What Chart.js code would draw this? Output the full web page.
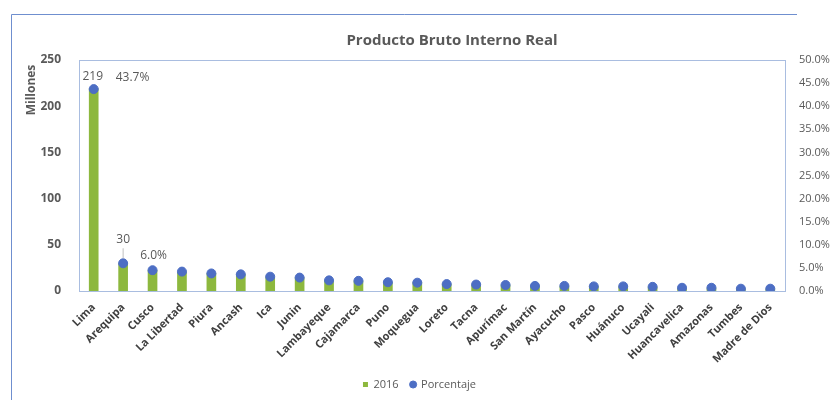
<!DOCTYPE html>
<html>
<head>
<meta charset="utf-8">
<script src="https://cdn.jsdelivr.net/npm/chart.js@4"></script>
<style>
  html, body { margin: 0; padding: 0; background: #ffffff; }
  #wrap { width: 839px; height: 400px; position: relative; }
</style>
</head>
<body>
<div id="wrap"><canvas id="g_pbi" width="839" height="400"></canvas></div>
<script>
// regiones (eje X)
const regiones = ['Lima', 'Arequipa', 'Cusco', 'La Libertad', 'Piura', 'Ancash', 'Ica', 'Junin',
  'Lambayeque', 'Cajamarca', 'Puno', 'Moquegua', 'Loreto', 'Tacna', 'Apurímac', 'San Martín',
  'Ayacucho', 'Pasco', 'Huánuco', 'Ucayali', 'Huancavelica', 'Amazonas', 'Tumbes', 'Madre de Dios'];
// PBI 2016 en millones
const pbi2016 = [219, 30, 22.6, 20.9, 19.2, 17.9, 15.4, 14.5, 11.5, 10.9, 9.4, 9.2,
  7.6, 6.9, 6.6, 5.7, 5.4, 5.1, 4.8, 4.3, 3.4, 3.3, 2.7, 2.4];
// participacion en %
const porcentaje = [43.7, 6.0, 4.5, 4.2, 3.8, 3.6, 3.1, 2.9, 2.3, 2.2, 1.9, 1.8,
  1.5, 1.4, 1.3, 1.1, 1.1, 1.0, 1.0, 0.9, 0.7, 0.7, 0.5, 0.5];
// etiquetas visibles solo en las dos primeras regiones
const etiquetasValor = ['219', '30'];
const etiquetasPct = ['43.7%', '6.0%'];

const gris = '#595959';

// plugin para titulo, marco, titulo del eje y etiquetas de datos
const extras = {
  id: 'extras',
  beforeDraw(chart) {
    const ctx = chart.ctx;
    const a = chart.chartArea;
    ctx.save();
    ctx.strokeStyle = '#6f8fcf';
    ctx.lineWidth = 1;
    ctx.beginPath();
    ctx.moveTo(11.5, 400);
    ctx.lineTo(11.5, 14.5);
    ctx.lineTo(797, 14.5);
    ctx.stroke();
    ctx.strokeStyle = '#a9bde0';
    ctx.strokeRect(Math.round(a.left) + 0.5, Math.round(a.top) + 0.5, a.right - a.left, a.bottom - a.top);
    ctx.restore();
  },
  afterDraw(chart) {
    const ctx = chart.ctx;
    ctx.save();
    ctx.fillStyle = gris;
    ctx.font = 'bold 15px "Open Sans", sans-serif';
    ctx.textAlign = 'center';
    ctx.textBaseline = 'middle';
    ctx.fillText('Producto Bruto Interno Real', 452, 41);
    ctx.translate(32, 90);
    ctx.rotate(-Math.PI / 2);
    ctx.font = 'bold 12px "Open Sans", sans-serif';
    ctx.fillText('Millones', 0, 0);
    ctx.restore();
  },
  afterDatasetsDraw(chart) {
    const ctx = chart.ctx;
    const pts = chart.getDatasetMeta(1).data;
    ctx.save();
    ctx.fillStyle = gris;
    ctx.font = '12px "Open Sans", sans-serif';
    ctx.textBaseline = 'middle';
    // Lima
    ctx.textAlign = 'center';
    ctx.fillText(etiquetasValor[0], pts[0].x - 1, pts[0].y - 13);
    ctx.textAlign = 'left';
    ctx.fillText(etiquetasPct[0], pts[0].x + 22, pts[0].y - 12);
    // Arequipa
    ctx.textAlign = 'center';
    ctx.fillText(etiquetasValor[1], pts[1].x, pts[1].y - 24);
    ctx.textAlign = 'left';
    ctx.fillText(etiquetasPct[1], pts[1].x + 17, pts[1].y - 8);
    ctx.strokeStyle = '#bfbfbf';
    ctx.beginPath();
    ctx.moveTo(pts[1].x, pts[1].y - 15);
    ctx.lineTo(pts[1].x, pts[1].y - 5);
    ctx.stroke();
    ctx.restore();
  }
};

function dibujarGrafico() {
  let context = document.getElementById('g_pbi').getContext('2d');
  let conData = {
    labels: regiones,
    datasets: [{
      type: 'bar',
      label: '2016',
      data: pbi2016,
      backgroundColor: '#8db83e',
      barThickness: 9,
      yAxisID: 'y',
      order: 1,
      pointStyle: 'rect'
    }, {
      type: 'line',
      label: 'Porcentaje',
      data: porcentaje,
      yAxisID: 'y1',
      showLine: false,
      pointRadius: 4.5,
      pointBackgroundColor: '#4d6ec4',
      pointBorderColor: '#4d6ec4',
      backgroundColor: '#4d6ec4',
      borderColor: '#4d6ec4',
      order: 0,
      pointStyle: 'circle'
    }]
  };
  let options = {
    responsive: false,
    animation: false,
    layout: { padding: { top: 60, left: 0, right: 0, bottom: 0 } },
    plugins: {
      legend: {
        position: 'bottom',
        labels: {
          usePointStyle: true,
          boxWidth: 5,
          boxHeight: 5,
          padding: 12,
          color: gris,
          font: { family: '"Open Sans", sans-serif', size: 11 },
          sort: (a, b) => a.datasetIndex - b.datasetIndex
        }
      },
      tooltip: { enabled: false }
    },
    scales: {
      x: {
        grid: { display: false },
        border: { display: false },
        ticks: {
          color: '#404040',
          maxRotation: 45,
          minRotation: 45,
          autoSkip: false,
          padding: 2,
          font: { family: '"Open Sans", sans-serif', size: 11, weight: 'bold' }
        },
        afterFit(scale) { scale.height = 76; }
      },
      y: {
        position: 'left',
        min: 0,
        max: 250,
        grid: { display: false },
        border: { display: false },
        ticks: {
          stepSize: 50,
          color: gris,
          padding: 10,
          font: { family: '"Open Sans", sans-serif', size: 12, weight: 'bold' }
        },
        afterFit(scale) { scale.width = 79; }
      },
      y1: {
        position: 'right',
        min: 0,
        max: 50,
        grid: { display: false },
        border: { display: false },
        ticks: {
          stepSize: 5,
          color: gris,
          padding: 6,
          font: { family: '"Open Sans", sans-serif', size: 11 },
          callback: v => v.toFixed(1) + '%'
        },
        afterFit(scale) { scale.width = 54; }
      }
    }
  };
  let config = { data: conData, options: options, plugins: [extras] };
  new Chart(context, config);
}

window.addEventListener('load', () => {
  dibujarGrafico();
});
</script>
</body>
</html>
